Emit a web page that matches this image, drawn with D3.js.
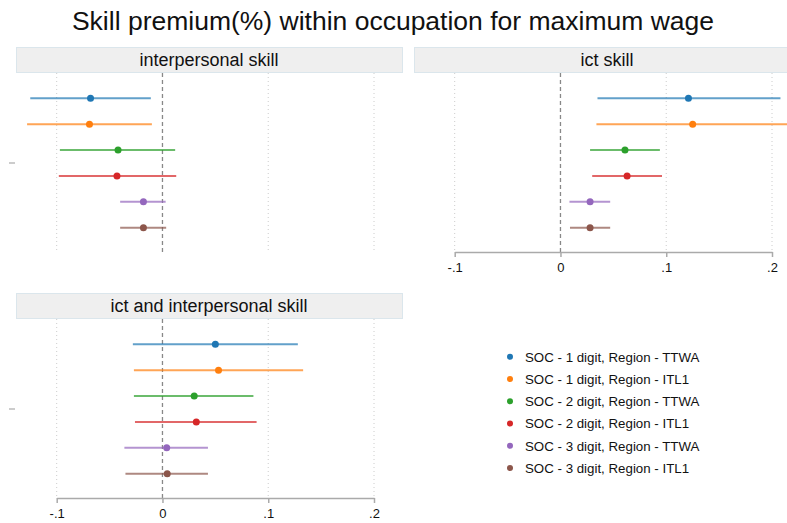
<!DOCTYPE html>
<html>
<head>
<meta charset="utf-8">
<script src="https://cdn.jsdelivr.net/npm/d3@7"></script>
<style>
  body { margin: 0; background: #fff; }
  svg { font-family: "Liberation Sans", Arial, sans-serif; }
</style>
</head>
<body>
<svg id="chart" width="787" height="523"></svg>
<script>
// series (specifications)
const series = [
  'SOC - 1 digit, Region - TTWA',
  'SOC - 1 digit, Region - ITL1',
  'SOC - 2 digit, Region - TTWA',
  'SOC - 2 digit, Region - ITL1',
  'SOC - 3 digit, Region - TTWA',
  'SOC - 3 digit, Region - ITL1'
];
const colors = ['#1f77b4', '#ff7f0e', '#2ca02c', '#d62728', '#9467bd', '#8c564b'];

const panelTitles = ['interpersonal skill', 'ict skill', 'ict and interpersonal skill'];

// point estimates and 95% CI, one array per panel, in series order
const interpEst = [-0.068, -0.069, -0.042, -0.043, -0.018, -0.018];
const interpLo  = [-0.125, -0.128, -0.097, -0.098, -0.040, -0.040];
const interpHi  = [-0.011, -0.010,  0.012,  0.013,  0.003,  0.0035];

const ictEst = [0.121, 0.125, 0.061, 0.063, 0.028, 0.028];
const ictLo  = [0.035, 0.034, 0.028, 0.030, 0.0085, 0.009];
const ictHi  = [0.208, 0.225, 0.094, 0.096, 0.047, 0.047];

const bothEst = [0.050, 0.053, 0.030, 0.032, 0.004, 0.0045];
const bothLo  = [-0.028, -0.027, -0.027, -0.026, -0.036, -0.035];
const bothHi  = [0.128, 0.133, 0.086, 0.089, 0.043, 0.043];

const xTicks = [-0.1, 0, 0.1, 0.2];
const xTickLabels = ['-.1', '0', '.1', '.2'];

const svg = d3.select('#chart');

svg.append('text')
  .attr('x', 393)
  .attr('y', 30)
  .attr('text-anchor', 'middle')
  .style('font-size', '26.5px')
  .style('fill', '#111')
  .text('Skill premium(%) within occupation for maximum wage');

function panel(x0, y0, title, est, lo, hi, showAxis) {
  const g = svg.append('g').attr('transform', 'translate(' + x0 + ',' + y0 + ')');
  const headerW = 386, headerH = 25;
  const axisY = 205;

  g.append('rect')
    .attr('x', 0.5).attr('y', 0.5)
    .attr('width', headerW).attr('height', headerH)
    .attr('fill', '#efefef')
    .attr('stroke', '#dbe6ec');
  g.append('text')
    .attr('x', headerW / 2)
    .attr('y', 19)
    .attr('text-anchor', 'middle')
    .style('font-size', '18px')
    .style('fill', '#111')
    .text(title);

  const x = d3.scaleLinear().domain([-0.1, 0.2]).range([40.7, 358]);
  const y = d3.scalePoint().domain(series).range([51.3, 180.7]);

  // grid
  g.selectAll('line.grid')
    .data(xTicks)
    .enter().append('line')
    .attr('class', 'grid')
    .attr('x1', (d) => x(d)).attr('x2', (d) => x(d))
    .attr('y1', headerH + 1).attr('y2', axisY)
    .attr('stroke', (d) => d === 0 ? '#888' : '#ccc')
    .attr('stroke-width', (d) => d === 0 ? 1.3 : 1)
    .attr('stroke-dasharray', (d) => d === 0 ? '4,3' : '1,3');

  // y tick (unlabelled), only on the left column
  if (x0 === 16) {
    const ym = (y(series[2]) + y(series[3])) / 2;
    g.append('line')
      .attr('x1', -7).attr('x2', -1)
      .attr('y1', ym).attr('y2', ym)
      .attr('stroke', '#bbb')
      .attr('stroke-width', 1.5);
  }

  const rows = series.map((s, i) => ({ s: s, est: est[i], lo: lo[i], hi: hi[i], c: colors[i] }));

  g.selectAll('line.ci')
    .data(rows)
    .enter().append('line')
    .attr('class', 'ci')
    .attr('x1', (d) => x(d.lo)).attr('x2', (d) => x(d.hi))
    .attr('y1', (d) => y(d.s)).attr('y2', (d) => y(d.s))
    .attr('stroke', (d) => d.c)
    .attr('stroke-opacity', 0.7)
    .attr('stroke-width', 2);

  g.selectAll('circle.est')
    .data(rows)
    .enter().append('circle')
    .attr('class', 'est')
    .attr('cx', (d) => x(d.est))
    .attr('cy', (d) => y(d.s))
    .attr('r', 3.5)
    .attr('fill', (d) => d.c);

  if (showAxis) {
    const axis = d3.axisBottom(x)
      .tickValues(xTicks)
      .tickFormat((d, i) => xTickLabels[i])
      .tickSize(5)
      .tickSizeOuter(0)
      .tickPadding(6);
    const ag = g.append('g')
      .attr('transform', 'translate(0,' + axisY + ')')
      .call(axis);
    ag.select('.domain').attr('stroke', '#aaa').attr('stroke-width', 1.5);
    ag.selectAll('.tick line').attr('stroke', '#aaa').attr('stroke-width', 1.5);
    ag.selectAll('.tick text')
      .style('font-size', '13px')
      .style('font-family', '"Liberation Sans", Arial, sans-serif')
      .attr('fill', '#111');
  }
}

panel(16, 47, panelTitles[0], interpEst, interpLo, interpHi, false);
panel(414, 47, panelTitles[1], ictEst, ictLo, ictHi, true);
panel(16, 293, panelTitles[2], bothEst, bothLo, bothHi, true);

// legend
const legend = svg.append('g');
const ly = d3.scalePoint().domain(series).range([356.7, 468]);
legend.selectAll('circle')
  .data(series)
  .enter().append('circle')
  .attr('cx', 510)
  .attr('cy', (d) => ly(d))
  .attr('r', 3)
  .attr('fill', (d, i) => colors[i]);
legend.selectAll('text')
  .data(series)
  .enter().append('text')
  .attr('x', 525)
  .attr('y', (d) => ly(d) + 4.8)
  .style('font-size', '13.3px')
  .style('fill', '#111')
  .text((d) => d);
</script>
</body>
</html>
